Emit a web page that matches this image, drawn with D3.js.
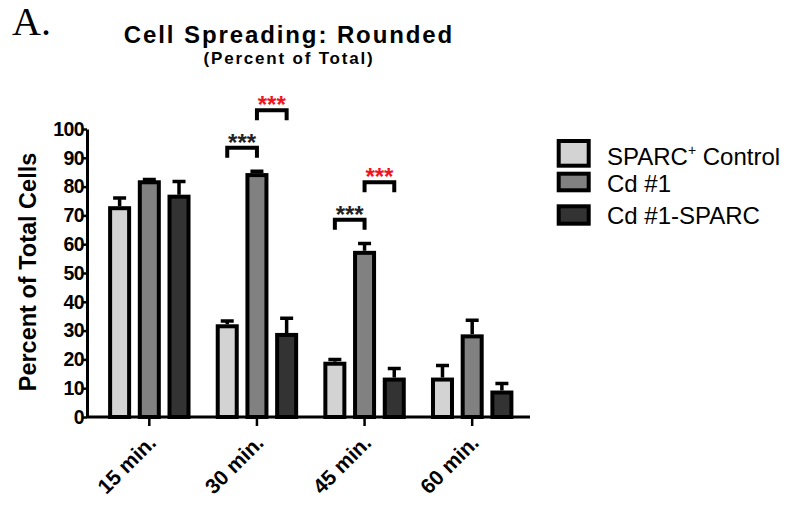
<!DOCTYPE html>
<html>
<head>
<meta charset="utf-8">
<script src="https://cdn.jsdelivr.net/npm/d3@7"></script>
<style>
  body { margin: 0; background: #fff; }
  text { font-family: "Liberation Sans", Arial, sans-serif; }
</style>
</head>
<body>
<div id="chart"></div>
<script>
// data
const times = ["15 min.", "30 min.", "45 min.", "60 min."];
const series = ["SPARC+ Control", "Cd #1", "Cd #1-SPARC"];
const control = [72.5, 31.5, 18.5, 13];
const cd1 = [81.5, 84, 57, 28];
const cd1Sparc = [76.5, 28.5, 13, 8.5];
const controlErr = [3.5, 1.8, 1.5, 4.9];
const cd1Err = [1, 1.3, 3.2, 5.6];
const cd1SparcErr = [5.3, 5.8, 3.8, 3.1];
const yTicks = [0, 10, 20, 30, 40, 50, 60, 70, 80, 90, 100];
// significance brackets: time, from series, to series, height (%), colour
const brackets = [
  {time: "30 min.", from: 0, to: 1, level: 93.5, red: false},
  {time: "30 min.", from: 1, to: 2, level: 106.5, red: true},
  {time: "45 min.", from: 0, to: 1, level: 68.5, red: false},
  {time: "45 min.", from: 1, to: 2, level: 81.5, red: true}
];

const fills = ["#d3d3d3", "#818181", "#333333"];

const W = 787, H = 506;
const svg = d3.select("#chart").append("svg")
  .attr("width", W).attr("height", H);

const values = [control, cd1, cd1Sparc];
const errs = [controlErr, cd1Err, cd1SparcErr];
const rows = [];
times.forEach((t, i) => series.forEach((s, j) => {
  rows.push({time: t, s: j, v: values[j][i], e: errs[j][i]});
}));

const x0 = d3.scaleBand().domain(times).range([95.5, 526]).padding(0);
const innerStep = 29.7;
const x1 = d3.scaleBand().domain(d3.range(series.length))
  .range([-innerStep * 1.68, innerStep * 1.68]).padding(0.36);
const y = d3.scaleLinear().domain([0, 100]).range([417, 129]);
const cx = (t, s) => x0(t) + x0.bandwidth() / 2 + x1(s) + x1.bandwidth() / 2;

// panel letter
svg.append("text").attr("x", 12).attr("y", 35)
  .style("font-family", "'Liberation Serif', 'Times New Roman', serif")
  .style("font-size", "40px").text("A.");

// titles
svg.append("text").attr("x", 289).attr("y", 43)
  .attr("text-anchor", "middle")
  .style("font-weight", "bold").style("font-size", "24px")
  .style("letter-spacing", "1.9px")
  .text("Cell Spreading: Rounded");
svg.append("text").attr("x", 289).attr("y", 64)
  .attr("text-anchor", "middle")
  .style("font-weight", "bold").style("font-size", "17px")
  .style("letter-spacing", "1.8px")
  .text("(Percent of Total)");

// y axis
const yAxis = svg.append("g")
  .attr("transform", "translate(87,0)")
  .call(d3.axisLeft(y).tickValues(yTicks).tickSize(5).tickPadding(-2).tickSizeOuter(0));
yAxis.select(".domain").attr("stroke", "#000").attr("stroke-width", 3);
yAxis.selectAll(".tick line").attr("stroke-width", 2.5);
yAxis.selectAll(".tick text")
  .style("font-family", "'Liberation Sans', Arial, sans-serif")
  .style("font-size", "19.5px").style("font-weight", "bold")
  .style("letter-spacing", "-0.6px").attr("fill", "#000");

svg.append("text")
  .attr("transform", "translate(36,272) rotate(-90)")
  .attr("text-anchor", "middle")
  .style("font-weight", "bold").style("font-size", "23.5px")
  .text("Percent of Total Cells");

// bars
svg.append("g").selectAll("rect").data(rows).join("rect")
  .attr("x", d => cx(d.time, d.s) - x1.bandwidth() / 2)
  .attr("width", x1.bandwidth())
  .attr("y", d => y(d.v))
  .attr("height", d => y(0) - y(d.v))
  .attr("fill", d => fills[d.s])
  .attr("stroke", "#000").attr("stroke-width", 4);

// error bars (upper only)
svg.append("g").selectAll("path").data(rows).join("path")
  .attr("d", d => {
    const c = cx(d.time, d.s), top = y(d.v + d.e);
    return `M${c},${y(d.v) - 2}V${top}M${c - 6.5},${top}H${c + 6.5}`;
  })
  .attr("fill", "none").attr("stroke", "#000").attr("stroke-width", 3.5);

// x axis
const xAxis = svg.append("g")
  .attr("transform", `translate(0,${y(0)})`)
  .call(d3.axisBottom(x0).tickSize(9).tickSizeOuter(0).tickFormat(""));
xAxis.select(".domain").attr("d", "M87,0H530").attr("stroke", "#000").attr("stroke-width", 3);
xAxis.selectAll(".tick line").attr("stroke-width", 2.5);

svg.append("g").selectAll("text").data(times).join("text")
  .attr("transform", t => `translate(${x0(t) + x0.bandwidth() / 2 + 8},444) rotate(-45)`)
  .attr("text-anchor", "end")
  .style("font-weight", "bold").style("font-size", "21px")
  .text(t => t);

// significance brackets
const bg = svg.append("g");
brackets.forEach(b => {
  const a = cx(b.time, b.from), c = cx(b.time, b.to);
  const top = y(b.level), leg = y(b.level - 3.5);
  bg.append("path")
    .attr("d", `M${a},${leg}V${top}H${c}V${leg}`)
    .attr("fill", "none").attr("stroke", "#000").attr("stroke-width", 4);
  bg.append("text")
    .attr("x", (a + c) / 2).attr("y", top + 3)
    .attr("text-anchor", "middle")
    .style("font-weight", "bold").style("font-size", "24px")
    .attr("fill", b.red ? "#f0141e" : "#222")
    .text("***");
});

// legend
const legend = [
  {x: 558.7, y: 141, w: 30, h: 24.7, ty: 165},
  {x: 558.7, y: 173.7, w: 30, h: 16.6, ty: 191.5},
  {x: 558.7, y: 206.3, w: 30, h: 17.4, ty: 224.3}
];
const lg = svg.append("g");
series.forEach((s, i) => {
  const L = legend[i];
  lg.append("rect").attr("x", L.x).attr("y", L.y).attr("width", L.w).attr("height", L.h)
    .attr("fill", fills[i]).attr("stroke", "#000").attr("stroke-width", 4);
  const t = lg.append("text").attr("x", 607).attr("y", L.ty)
    .style("font-size", "24px");
  if (s.endsWith("+ Control")) {
    t.append("tspan").text("SPARC");
    t.append("tspan").attr("dy", -10).style("font-size", "14px").text("+");
    t.append("tspan").attr("dy", 10).text(" Control");
  } else {
    t.text(s);
  }
});
</script>
</body>
</html>
